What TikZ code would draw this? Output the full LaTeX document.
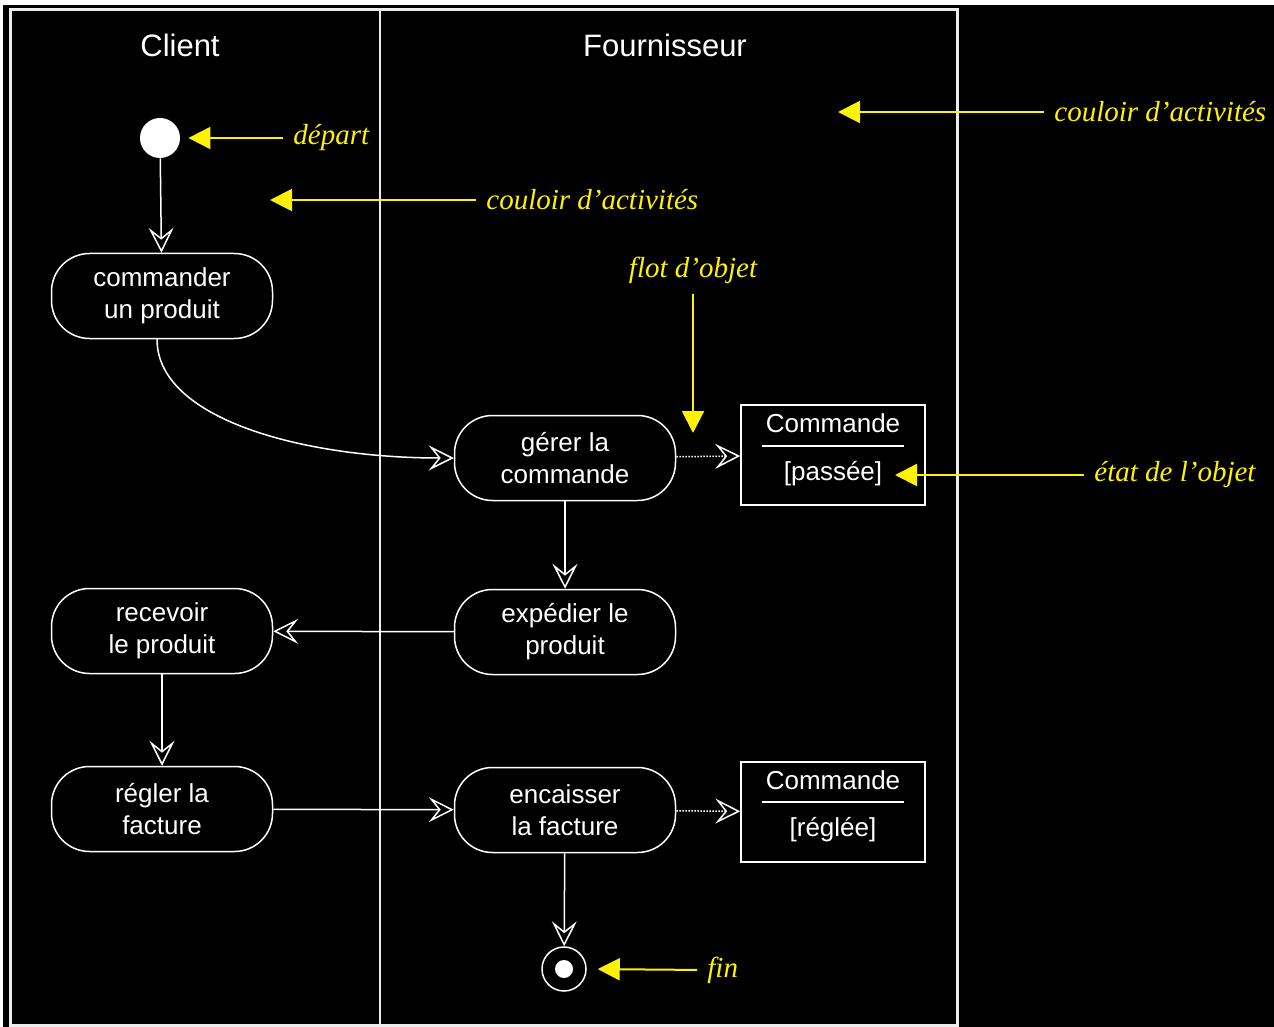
\documentclass[tikz,border=0pt]{standalone}
\usepackage{fontspec}
\setmainfont{Liberation Sans}
\newfontfamily\notefont{Liberation Serif}
\usetikzlibrary{arrows.meta}

\begin{document}
\begin{tikzpicture}[x=0.5pt,y=-0.5pt,>=Stealth,
  every node/.style={font=\fontsize{13}{16}\selectfont,text=white},
  lane/.style={font=\fontsize{15.5}{18}\selectfont},
  activite/.style={draw=white,line width=0.75pt,rounded corners=19pt,
    minimum width=110.5pt,minimum height=42.5pt,align=center,inner sep=0pt},
  objet/.style={draw=white,line width=0.75pt,minimum width=92pt,minimum height=50pt,inner sep=0pt},
  flux/.style={draw=white,line width=0.75pt,-{Stealth[open,length=12.5pt,width=12.5pt,inset=5pt]}},
  objflux/.style={flux,dash pattern=on 0.75pt off 0.75pt},
  note/.style={font=\notefont\itshape\fontsize{14.5}{17}\selectfont,text=yellow,inner sep=1pt},
  renvoi/.style={draw=yellow,line width=1pt,shorten <=4pt,-{Triangle[length=11pt,width=11pt]}}]
  \useasboundingbox (0,0) rectangle (1274,1027);
  \fill[white] (0,0) rectangle (1274,1027);
  \fill[black] (3,5) rectangle (1274,1027);
  % couloirs
  \draw[white!85!gray,line width=1.5pt] (10,10) rectangle (957,1025);
  \draw[white!85!gray,line width=0.75pt] (380,10) -- (380,1025);
  \node[lane] (client) at (180,45) {Client};
  \node[lane] (fournisseur) at (665,45) {Fournisseur};
  % activites
  \node[circle,fill=white,minimum size=20pt,inner sep=0pt] (depart) at (160,138) {};
  \node[activite] (commander) at (162,296) {commander\\un produit};
  \node[activite] (gerer) at (565,458) {gérer la\\commande};
  \node[activite] (expedier) at (565,632) {expédier le\\produit};
  \node[activite] (recevoir) at (162,631) {recevoir\\le produit};
  \node[activite] (regler) at (162,809) {régler la\\facture};
  \node[activite] (encaisser) at (565,810) {encaisser\\la facture};
  \node[circle,draw=white,line width=0.75pt,minimum size=22pt,inner sep=0pt] (fin) at (564,969) {};
  \fill[white] (fin) circle (4.5pt);
  % objets
  \node[objet] (passee) at (833,455) {};
  \node (cmdpassee) at (833,423) {Commande};
  \draw[white,line width=0.75pt] (762,446) -- (904,446);
  \node (etatpassee) at (833,474) {[passée]};
  \node[objet] (reglee) at (833,812) {};
  \node (cmdreglee) at (833,780) {Commande};
  \draw[white,line width=0.75pt] (762,802) -- (904,802);
  \node (etatreglee) at (833,830) {[réglée]};
  % transitions
  \draw[flux] (depart) -- (commander);
  \draw[flux] ([xshift=-2.5pt]commander.south) .. controls +(0,80) and +(-150,0) .. (gerer.west);
  \draw[objflux] (gerer) -- (passee);
  \draw[flux] (gerer) -- (expedier);
  \draw[flux] (expedier) -- (recevoir);
  \draw[flux] (recevoir) -- (regler);
  \draw[flux] (regler) -- (encaisser);
  \draw[objflux] (encaisser) -- (reglee);
  \draw[flux] (encaisser) -- (fin);
  % legendes
  \node[note,anchor=west] (ndepart) at (291,138) {départ};
  \draw[renvoi,shorten >=4pt] (ndepart.west) -- (depart.east);
  \node[note,anchor=west] (ncouloir) at (484,200) {couloir d’activités};
  \coordinate (couloir) at (270,200);
  \draw[renvoi] (ncouloir.west) -- (couloir);
  \node[note,anchor=west] (ncouloirb) at (1052,112) {couloir d’activités};
  \coordinate (couloirb) at (838,112);
  \draw[renvoi] (ncouloirb.west) -- (couloirb);
  \node[note] (nflot) at (693,270) {flot d’objet};
  \coordinate (flot) at (693,433);
  \draw[renvoi] (nflot.south) -- (flot);
  \node[note,anchor=west] (netat) at (1092,475) {état de l’objet};
  \coordinate (etat) at (895,475);
  \draw[renvoi] (netat.west) -- (etat);
  \node[note,anchor=west] (nfin) at (705,970) {fin};
  \draw[renvoi,shorten >=5.5pt] (nfin.west) -- (fin.east);
\end{tikzpicture}
\end{document}
